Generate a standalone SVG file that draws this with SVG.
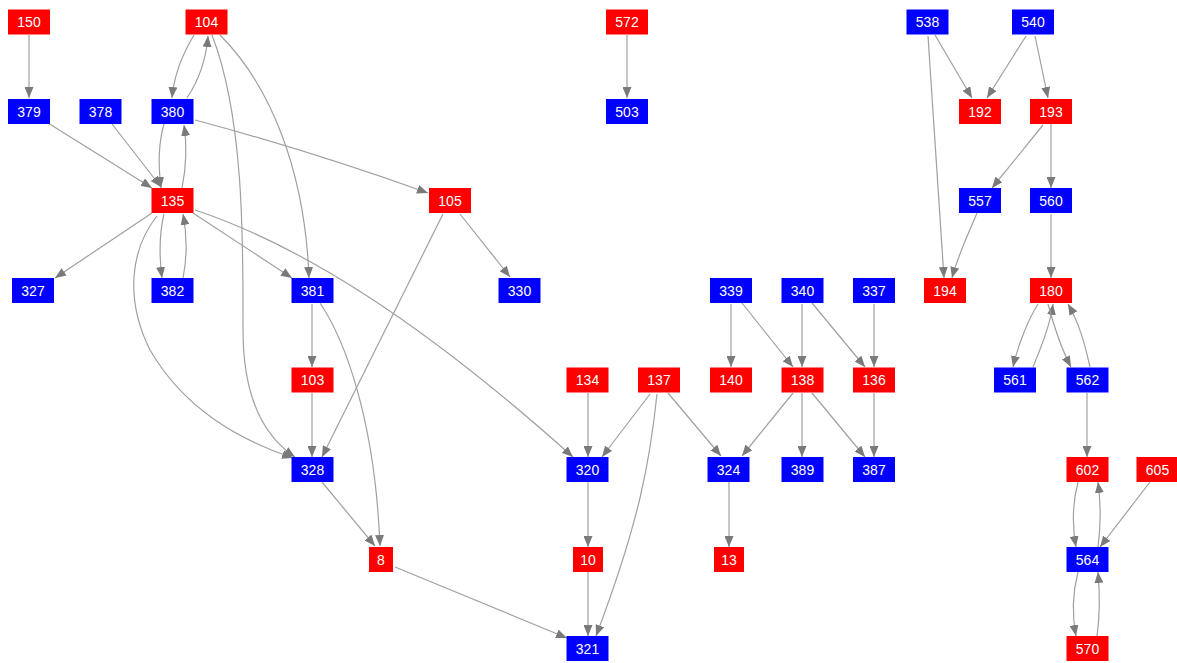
<svg xmlns="http://www.w3.org/2000/svg" width="1177" height="663" viewBox="0 0 1177 663">
<style>
.r{fill:#ff0000}
.b{fill:#0000ff}
text{font-family:"Liberation Sans",Arial,sans-serif;font-size:14px;fill:#ffffff;text-anchor:middle}
#edges path{fill:none;stroke:#a0a0a0;stroke-width:1.2;marker-end:url(#ah)}
</style>
<defs>
<marker id="ah" markerUnits="userSpaceOnUse" markerWidth="11" markerHeight="9" refX="11" refY="4.5" orient="auto">
<path d="M0,0 L11,4.5 L0,9 z" fill="#7a7a7a"/>
</marker>
</defs>
<rect width="1177" height="663" fill="#ffffff"/>
<g id="edges">
<path d="M29,35 L29,98"/>
<path d="M194,35 C182,55 174,75 172,98"/>
<path d="M187,98 C199,80 206,60 208,36"/>
<path d="M212,35 C245,120 243,250 243,330 C243,400 265,437 295,457"/>
<path d="M220,35 C270,85 305,170 309,278"/>
<path d="M48,123 L152,188"/>
<path d="M112,124 L161,187"/>
<path d="M164,124 C158,145 158,165 161,188"/>
<path d="M182,188 C186,168 187,145 184,125"/>
<path d="M195,120 C270,140 350,165 428,193"/>
<path d="M152,213 L55,278"/>
<path d="M164,214 C159,235 159,255 162,278"/>
<path d="M183,278 C187,258 187,235 183,214"/>
<path d="M193,213 L292,278"/>
<path d="M157,216 C130,250 125,300 150,350 C185,410 240,440 293,458"/>
<path d="M195,210 C300,245 420,320 573,457"/>
<path d="M443,214 L322,457"/>
<path d="M460,214 L510,277"/>
<path d="M312,304 L312,367"/>
<path d="M320,303 C345,340 375,420 380,546"/>
<path d="M312,393 L312,457"/>
<path d="M322,482 L375,546"/>
<path d="M395,567 L567,638"/>
<path d="M588,393 L588,457"/>
<path d="M650,394 L602,457"/>
<path d="M668,393 L721,456"/>
<path d="M657,394 C650,460 640,520 596,636"/>
<path d="M588,482 L588,547"/>
<path d="M588,572 L588,636"/>
<path d="M731,304 L731,367"/>
<path d="M742,303 L793,367"/>
<path d="M802,304 L802,367"/>
<path d="M812,303 L865,367"/>
<path d="M874,304 L874,367"/>
<path d="M793,393 L742,456"/>
<path d="M802,393 L802,457"/>
<path d="M812,393 L865,457"/>
<path d="M874,393 L874,457"/>
<path d="M729,482 L729,547"/>
<path d="M627,35 L627,98"/>
<path d="M935,35 L972,98"/>
<path d="M928,36 L944,278"/>
<path d="M1026,36 L987,98"/>
<path d="M1035,36 L1048,98"/>
<path d="M1043,125 L992,188"/>
<path d="M1051,124 L1051,188"/>
<path d="M977,213 C968,235 958,255 952,278"/>
<path d="M1051,214 L1051,278"/>
<path d="M1038,304 C1028,320 1018,345 1013,367"/>
<path d="M1033,367 C1042,345 1050,325 1053,304"/>
<path d="M1048,304 C1055,330 1062,350 1071,367"/>
<path d="M1090,367 C1085,345 1080,325 1068,304"/>
<path d="M1087,393 L1087,457"/>
<path d="M1078,482 C1072,505 1072,525 1076,547"/>
<path d="M1098,547 C1101,525 1101,505 1098,482"/>
<path d="M1150,482 L1100,547"/>
<path d="M1078,572 C1072,595 1072,615 1076,636"/>
<path d="M1097,636 C1100,615 1100,595 1098,572"/>
</g>
<g id="n150" transform="translate(29,22)"><rect class="r" x="-21" y="-12.5" width="42" height="25"/><text y="5">150</text></g>
<g id="n104" transform="translate(206.5,22)"><rect class="r" x="-21" y="-12.5" width="42" height="25"/><text y="5">104</text></g>
<g id="n572" transform="translate(627,22)"><rect class="r" x="-21" y="-12.5" width="42" height="25"/><text y="5">572</text></g>
<g id="n538" transform="translate(927.5,22)"><rect class="b" x="-21" y="-12.5" width="42" height="25"/><text y="5">538</text></g>
<g id="n540" transform="translate(1033,22)"><rect class="b" x="-21" y="-12.5" width="42" height="25"/><text y="5">540</text></g>
<g id="n379" transform="translate(29,111.5)"><rect class="b" x="-21" y="-12.5" width="42" height="25"/><text y="5">379</text></g>
<g id="n378" transform="translate(100.5,111.5)"><rect class="b" x="-21" y="-12.5" width="42" height="25"/><text y="5">378</text></g>
<g id="n380" transform="translate(172.5,111.5)"><rect class="b" x="-21" y="-12.5" width="42" height="25"/><text y="5">380</text></g>
<g id="n503" transform="translate(627,111.5)"><rect class="b" x="-21" y="-12.5" width="42" height="25"/><text y="5">503</text></g>
<g id="n192" transform="translate(980,111.5)"><rect class="r" x="-21" y="-12.5" width="42" height="25"/><text y="5">192</text></g>
<g id="n193" transform="translate(1051,111.5)"><rect class="r" x="-21" y="-12.5" width="42" height="25"/><text y="5">193</text></g>
<g id="n135" transform="translate(172.5,200.5)"><rect class="r" x="-21" y="-12.5" width="42" height="25"/><text y="5">135</text></g>
<g id="n105" transform="translate(450,200.5)"><rect class="r" x="-21" y="-12.5" width="42" height="25"/><text y="5">105</text></g>
<g id="n557" transform="translate(980,200.5)"><rect class="b" x="-21" y="-12.5" width="42" height="25"/><text y="5">557</text></g>
<g id="n560" transform="translate(1051,200.5)"><rect class="b" x="-21" y="-12.5" width="42" height="25"/><text y="5">560</text></g>
<g id="n327" transform="translate(33,290.5)"><rect class="b" x="-21" y="-12.5" width="42" height="25"/><text y="5">327</text></g>
<g id="n382" transform="translate(172.5,290.5)"><rect class="b" x="-21" y="-12.5" width="42" height="25"/><text y="5">382</text></g>
<g id="n381" transform="translate(312.5,290.5)"><rect class="b" x="-21" y="-12.5" width="42" height="25"/><text y="5">381</text></g>
<g id="n330" transform="translate(519.5,290.5)"><rect class="b" x="-21" y="-12.5" width="42" height="25"/><text y="5">330</text></g>
<g id="n339" transform="translate(731,290.5)"><rect class="b" x="-21" y="-12.5" width="42" height="25"/><text y="5">339</text></g>
<g id="n340" transform="translate(802.5,290.5)"><rect class="b" x="-21" y="-12.5" width="42" height="25"/><text y="5">340</text></g>
<g id="n337" transform="translate(874,290.5)"><rect class="b" x="-21" y="-12.5" width="42" height="25"/><text y="5">337</text></g>
<g id="n194" transform="translate(945,290.5)"><rect class="r" x="-21" y="-12.5" width="42" height="25"/><text y="5">194</text></g>
<g id="n180" transform="translate(1051,290.5)"><rect class="r" x="-21" y="-12.5" width="42" height="25"/><text y="5">180</text></g>
<g id="n103" transform="translate(312.5,380)"><rect class="r" x="-21" y="-12.5" width="42" height="25"/><text y="5">103</text></g>
<g id="n134" transform="translate(587.5,380)"><rect class="r" x="-21" y="-12.5" width="42" height="25"/><text y="5">134</text></g>
<g id="n137" transform="translate(659,380)"><rect class="r" x="-21" y="-12.5" width="42" height="25"/><text y="5">137</text></g>
<g id="n140" transform="translate(731,380)"><rect class="r" x="-21" y="-12.5" width="42" height="25"/><text y="5">140</text></g>
<g id="n138" transform="translate(802.5,380)"><rect class="r" x="-21" y="-12.5" width="42" height="25"/><text y="5">138</text></g>
<g id="n136" transform="translate(874,380)"><rect class="r" x="-21" y="-12.5" width="42" height="25"/><text y="5">136</text></g>
<g id="n561" transform="translate(1015,380)"><rect class="b" x="-21" y="-12.5" width="42" height="25"/><text y="5">561</text></g>
<g id="n562" transform="translate(1087.5,380)"><rect class="b" x="-21" y="-12.5" width="42" height="25"/><text y="5">562</text></g>
<g id="n328" transform="translate(312.5,469.5)"><rect class="b" x="-21" y="-12.5" width="42" height="25"/><text y="5">328</text></g>
<g id="n320" transform="translate(587.5,469.5)"><rect class="b" x="-21" y="-12.5" width="42" height="25"/><text y="5">320</text></g>
<g id="n324" transform="translate(728.5,469.5)"><rect class="b" x="-21" y="-12.5" width="42" height="25"/><text y="5">324</text></g>
<g id="n389" transform="translate(802.5,469.5)"><rect class="b" x="-21" y="-12.5" width="42" height="25"/><text y="5">389</text></g>
<g id="n387" transform="translate(874,469.5)"><rect class="b" x="-21" y="-12.5" width="42" height="25"/><text y="5">387</text></g>
<g id="n602" transform="translate(1087.5,469.5)"><rect class="r" x="-21" y="-12.5" width="42" height="25"/><text y="5">602</text></g>
<g id="n605" transform="translate(1157.5,469.5)"><rect class="r" x="-21" y="-12.5" width="42" height="25"/><text y="5">605</text></g>
<g id="n8" transform="translate(381,559.5)"><rect class="r" x="-12" y="-12.5" width="24" height="25"/><text y="5">8</text></g>
<g id="n10" transform="translate(588,559.5)"><rect class="r" x="-15" y="-12.5" width="30" height="25"/><text y="5">10</text></g>
<g id="n13" transform="translate(729,559.5)"><rect class="r" x="-15" y="-12.5" width="30" height="25"/><text y="5">13</text></g>
<g id="n564" transform="translate(1087.5,559.5)"><rect class="b" x="-21" y="-12.5" width="42" height="25"/><text y="5">564</text></g>
<g id="n321" transform="translate(587.5,648.5)"><rect class="b" x="-21" y="-12.5" width="42" height="25"/><text y="5">321</text></g>
<g id="n570" transform="translate(1087.5,648.5)"><rect class="r" x="-21" y="-12.5" width="42" height="25"/><text y="5">570</text></g>
</svg>
